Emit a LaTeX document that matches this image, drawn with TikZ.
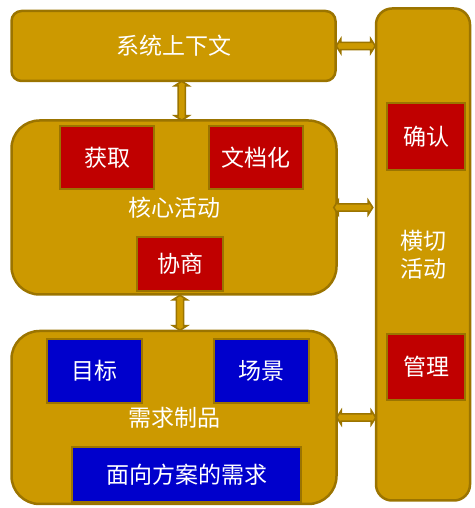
\documentclass[tikz,border=0pt]{standalone}
\usepackage{fontspec}
\setmainfont{Noto Sans CJK SC}
\usetikzlibrary{positioning}
\usetikzlibrary{calc}
\usetikzlibrary{shapes.arrows}
\definecolor{area colour}{RGB}{204,153,0}
\definecolor{edge colour}{RGB}{155,116,0}
\definecolor{task colour}{RGB}{192,0,0}
\definecolor{artefact colour}{RGB}{0,0,204}
\tikzset{
    % Define a set of styles
    % First some fills
    area fill/.style={fill=area colour},
    task fill/.style={fill=task colour},
    artefact fill/.style={fill=artefact colour},
    % Every box has the same dark outline
    outline/.style={draw=edge colour, line width=2.5pt},
%
    % White centred text everywhere
    every node/.style={align=center, text=white,
        font=\fontsize{23}{28}\selectfont},
}

\begin{document}
\begin{tikzpicture}[
    x=1pt, y=1pt,
    area/.style={area fill, outline, rectangle, inner sep=0},
    item/.style={outline, rectangle, inner sep=0,
        minimum width=94pt, minimum height=63pt},
    link/.style={
        double arrow, area fill, draw=edge colour, line width=1.6pt,
        inner xsep=0, inner ysep=2.8pt, minimum height=39pt,
        double arrow head extend=3.5pt, double arrow tip angle=115},
]
\useasboundingbox (0,0) rectangle (474,508);

% The three stacked areas and the cross-cutting column
\node [area, rounded corners=10pt, minimum width=324pt, minimum height=70pt]
    (context) at (173.5,462) {系统上下文};
\node [area, rounded corners=28pt, minimum width=325pt, minimum height=174pt]
    (core) at (174,300.5) {核心活动};
\node [area, rounded corners=28pt, minimum width=325pt, minimum height=173pt]
    (artefacts) at (174,90.5) {需求制品};
\node [area, rounded corners=16pt, minimum width=94pt, minimum height=492pt]
    (cross) at (423,253.5) {横切\\活动};

% Core activities
\node [item, task fill] (elicit) at (107,350.5) {获取};
\node [item, task fill] (document) at (256,350.5) {文档化};
\node [item, task fill, minimum width=86pt, minimum height=54pt]
    (negotiate) at (180,244) {协商};

% Cross-cutting activities
\node [item, task fill, minimum width=78pt, minimum height=67pt]
    (validate) at (426,371.5) {确认};
\node [item, task fill, minimum width=78pt, minimum height=66pt]
    (manage) at (426,141) {管理};

% Requirements artefacts
\node [item, artefact fill, minimum width=95pt, minimum height=64pt]
    (goals) at (94.5,137) {目标};
\node [item, artefact fill, minimum width=95pt, minimum height=64pt]
    (scenarios) at (261.5,137) {场景};
\node [item, artefact fill, minimum width=229pt, minimum height=55pt]
    (solution) at (186.5,33.5) {面向方案的需求};

% Two-way links between the areas
\node [link] (context-cross)
    at ($(context.east)!0.5!(context.east -| cross.west)$) {};
\node [link] (core-cross)
    at ($(core.east)!0.5!(core.east -| cross.west)+(-3,0)$) {};
\node [link] (artefacts-cross)
    at ($(artefacts.east)!0.5!(artefacts.east -| cross.west)$) {};
\node [link, rotate=90] (context-core)
    at ($(context.south)!0.5!(core.north)+(8,0)$) {};
\node [link, rotate=90, minimum height=35pt] (core-artefacts)
    at ($(core.south)!0.5!(artefacts.north)+(6,0)$) {};

\end{tikzpicture}
\end{document}
